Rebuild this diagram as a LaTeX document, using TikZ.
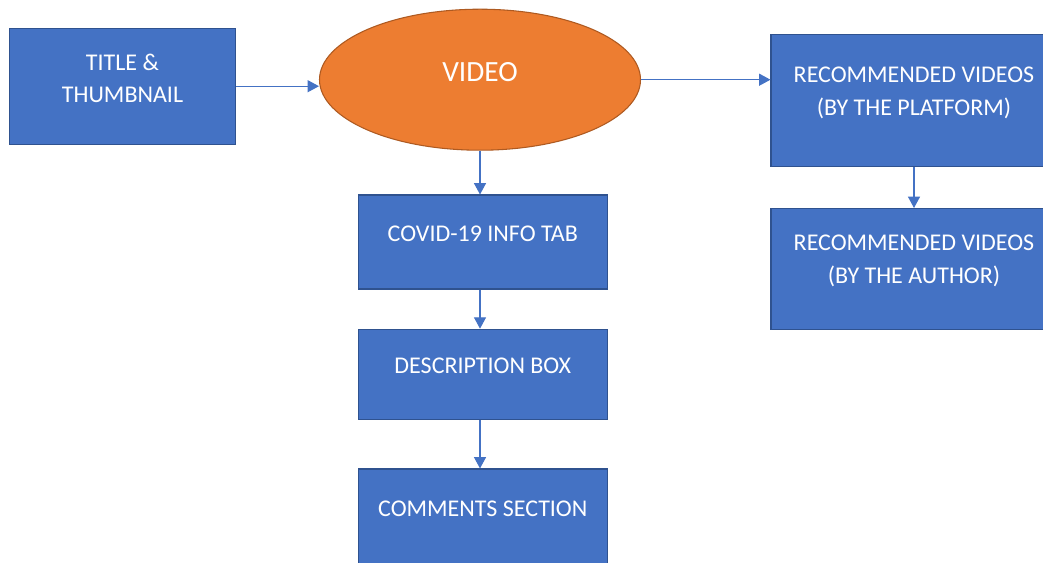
\documentclass[tikz,border=0pt]{standalone}
\usepackage{fontspec}
\setmainfont{Carlito}
\usetikzlibrary{shapes.geometric, arrows.meta}

\definecolor{boxblue}{HTML}{4472C4}
\definecolor{boxedge}{HTML}{2F528F}
\definecolor{vidorange}{HTML}{ED7D31}
\definecolor{videdge}{HTML}{AE5A21}

\begin{document}
\begin{tikzpicture}[x=0.75pt, y=-0.75pt,
	box/.style={draw=boxedge, fill=boxblue, rectangle, line width=0.8pt},
	boxtext/.style={text=white, align=center, font=\fontsize{18}{24.4}\selectfont},
	link/.style={draw=boxblue, line width=0.8pt, -{Triangle[length=8.5pt, width=9pt]}}]
	\useasboundingbox (0,0) rectangle (1043,562);
	\fill[white] (0,0) rectangle (1043,562);

	\def \lift {6pt}

	% the video in the middle
	\node[draw=videdge, fill=vidorange, ellipse, line width=0.8pt,
		minimum width=240.75pt, minimum height=105.75pt, inner sep=0pt] (video) at (480,79.7) {};
	\node[text=white, font=\fontsize{22}{26}\selectfont] (videotext) at ([yshift=\lift]video.center) {VIDEO};

	\node[box, minimum width=169.5pt, minimum height=87pt] (title) at (122.5,86.2) {};
	\node[boxtext] (titletext) at ([yshift=\lift]title.center) {TITLE \&\\THUMBNAIL};

	% right column
	\node[box, minimum width=214.5pt, minimum height=99pt] (platform) at (914,100.8) {};
	\node[boxtext] (platformtext) at ([yshift=\lift]platform.center)
		{RECOMMENDED VIDEOS\\(BY THE PLATFORM)};
	\node[box, minimum width=214.5pt, minimum height=90.75pt] (author) at (914,269) {};
	\node[boxtext] (authortext) at ([yshift=\lift]author.center)
		{RECOMMENDED VIDEOS\\(BY THE AUTHOR)};

	% column under the video
	\node[box, minimum width=186.75pt, minimum height=70.5pt] (covid) at (482.8,242) {};
	\node[boxtext] (covidtext) at ([yshift=\lift]covid.center) {COVID-19 INFO TAB};
	\node[box, minimum width=186.75pt, minimum height=67.5pt] (desc) at (482.8,374.2) {};
	\node[boxtext] (desctext) at ([yshift=\lift]desc.center) {DESCRIPTION BOX};
	\node[box, minimum width=186.75pt, minimum height=71pt] (comments) at (482.8,516.3) {};
	\node[boxtext] (commentstext) at ([yshift=\lift]comments.center) {COMMENTS SECTION};

	\draw[link] (title.east) -- (title.east -| video.west);
	\draw[link] (video.east) -- (video.east -| platform.west);
	\draw[link] (platform.south) -- (author.north);
	\draw[link] (video.south) -- (video.south |- covid.north);
	\draw[link] (video.south |- covid.south) -- (video.south |- desc.north);
	\draw[link] (video.south |- desc.south) -- (video.south |- comments.north);
\end{tikzpicture}
\end{document}
